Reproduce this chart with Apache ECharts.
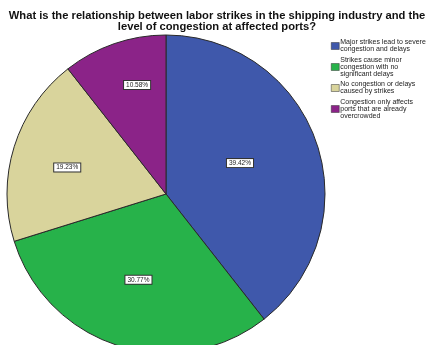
<!DOCTYPE html>
<html>
<head>
<meta charset="utf-8">
<script src="https://cdn.jsdelivr.net/npm/echarts@6/dist/echarts.min.js"></script>
<style>
  html, body { margin: 0; padding: 0; background: #ffffff; }
  #chart { width: 434px; height: 345px; }
</style>
</head>
<body>
<div id="chart"></div>
<script>
// Responses to the survey question, in clockwise order from 12 o'clock
const categories = [
  'Major strikes lead to severe\ncongestion and delays',
  'Strikes cause minor\ncongestion with no\nsignificant delays',
  'No congestion or delays\ncaused by strikes',
  'Congestion only affects\nports that are already\novercrowded'
];
const percentages = [39.42, 30.77, 19.23, 10.58];
const sliceColors = ['#3f58ab', '#27b24a', '#d9d49c', '#8b2388'];
// Nudges that move each percentage box from the default inside anchor
const labelNudges = [[-4, -4], [-3, 7], [-20, -2], [-2, -31]];

const chart = echarts.init(document.getElementById('chart'));

const pieData = categories.map((name, i) => ({
  name: name,
  value: percentages[i],
  itemStyle: { color: sliceColors[i] },
  label: { offset: labelNudges[i] }
}));

chart.setOption({
  animation: false,
  backgroundColor: '#ffffff',
  title: {
    text: 'What is the relationship between labor strikes in the shipping industry and the\nlevel of congestion at affected ports?',
    left: 'center',
    top: 6,
    textStyle: {
      fontFamily: 'Liberation Sans, Arial, sans-serif',
      fontWeight: 'bold',
      fontSize: 11.2,
      lineHeight: 10.5,
      color: '#111111'
    }
  },
  legend: {
    orient: 'vertical',
    left: 331,
    top: 39,
    padding: 0,
    itemWidth: 8,
    itemHeight: 7,
    itemGap: 3.5,
    icon: 'rect',
    selectedMode: false,
    data: categories,
    textStyle: {
      fontFamily: 'Liberation Sans, Arial, sans-serif',
      fontSize: 7,
      lineHeight: 7,
      color: '#222222',
      padding: [0, 0, 0, -4]
    },
    itemStyle: { borderColor: '#333333', borderWidth: 0.5 }
  },
  series: [{
    type: 'pie',
    center: [166, 194],
    radius: 159,
    startAngle: 90,
    clockwise: true,
    avoidLabelOverlap: false,
    data: pieData,
    itemStyle: { borderColor: '#2a2a2a', borderWidth: 1 },
    label: {
      show: true,
      position: 'inside',
      formatter: p => p.value.toFixed(2) + '%',
      fontFamily: 'Liberation Sans, Arial, sans-serif',
      fontSize: 6.5,
      color: '#222222',
      backgroundColor: '#ffffff',
      borderColor: '#333333',
      borderWidth: 1,
      padding: [1, 2, 0, 2]
    },
    labelLine: { show: false },
    emphasis: { disabled: true }
  }]
});
</script>
</body>
</html>
